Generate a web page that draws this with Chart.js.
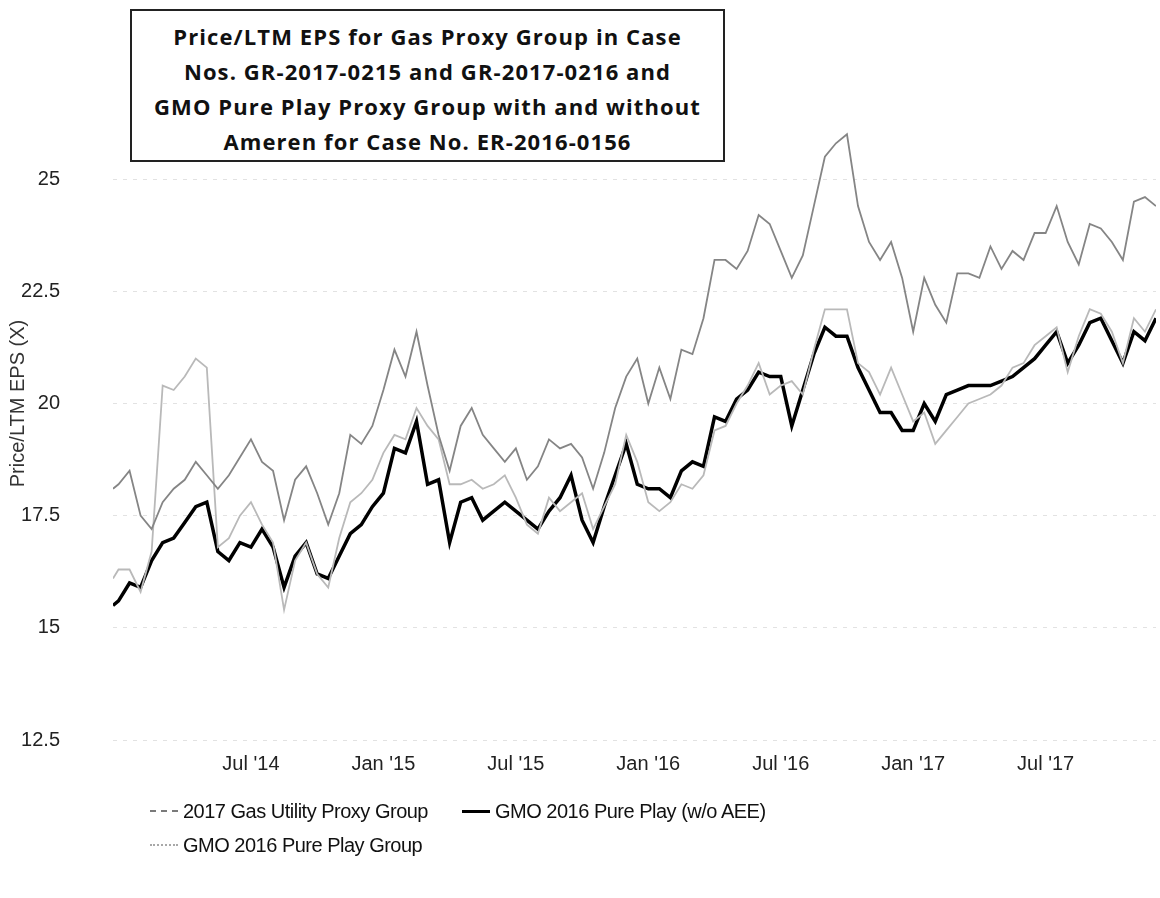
<!DOCTYPE html>
<html>
<head>
<meta charset="utf-8">
<script src="https://cdn.jsdelivr.net/npm/chart.js@4.4.1/dist/chart.umd.min.js"></script>
<style>
  body { margin: 0; background: #fff; }
  #wrap { position: relative; width: 1160px; height: 898px; }
  #title {
    position: absolute; left: 130px; top: 9px; width: 595px; height: 153px;
    box-sizing: border-box; border: 2px solid #222; background: #fff;
    padding-top: 8px; text-align: center; white-space: nowrap;
    font-family: 'Open Sans', sans-serif; font-weight: 700; font-size: 22px; letter-spacing: 1.1px;
    line-height: 35px; color: #111;
  }
  .item {
    position: absolute; display: flex; align-items: center; height: 24px;
    font-family: 'Liberation Sans', Arial, sans-serif; font-size: 20px; letter-spacing: -0.5px; color: #111;
  }
  .mark { width: 28px; height: 0; margin-right: 5px; }
</style>
</head>
<body>
<div id="wrap">
  <canvas id="chart" width="1160" height="898"></canvas>
  <div id="title">Price/LTM EPS for Gas Proxy Group in Case<br>Nos. GR-2017-0215 and GR-2017-0216 and<br>GMO Pure Play Proxy Group with and without<br>Ameren for Case No. ER-2016-0156</div>
  <div id="legend"></div>
</div>
<script>
// months since Jan 2014
const months = [
  -0.25, 0, 0.5, 1, 1.5, 2, 2.5, 3, 3.5, 4, 4.5, 5, 5.5, 6, 6.5, 7, 7.5, 8, 8.5, 9, 9.5,
  10, 10.5, 11, 11.5, 12, 12.5, 13, 13.5, 14, 14.5, 15, 15.5, 16, 16.5, 17, 17.5, 18, 18.5, 19, 19.5,
  20, 20.5, 21, 21.5, 22, 22.5, 23, 23.5, 24, 24.5, 25, 25.5, 26, 26.5, 27, 27.5, 28, 28.5, 29, 29.5,
  30, 30.5, 31, 31.5, 32, 32.5, 33, 33.5, 34, 34.5, 35, 35.5, 36, 36.5, 37, 37.5, 38, 38.5, 39, 39.5,
  40, 40.5, 41, 41.5, 42, 42.5, 43, 43.5, 44, 44.5, 45, 45.5, 46, 46.5, 47
];

const gasProxy = [
  18.1, 18.2, 18.5, 17.5, 17.2, 17.8, 18.1, 18.3, 18.7, 18.4, 18.1, 18.4, 18.8, 19.2, 18.7, 18.5, 17.4, 18.3, 18.6, 18.0,
  17.3, 18.0, 19.3, 19.1, 19.5, 20.3, 21.2, 20.6, 21.6, 20.4, 19.3, 18.5, 19.5, 19.9, 19.3, 19.0, 18.7, 19.0, 18.3, 18.6,
  19.2, 19.0, 19.1, 18.8, 18.1, 18.9, 19.9, 20.6, 21.0, 20.0, 20.8, 20.1, 21.2, 21.1, 21.9, 23.2, 23.2, 23.0, 23.4, 24.2,
  24.0, 23.4, 22.8, 23.3, 24.4, 25.5, 25.8, 26.0, 24.4, 23.6, 23.2, 23.6, 22.8, 21.6, 22.8, 22.2, 21.8, 22.9, 22.9, 22.8,
  23.5, 23.0, 23.4, 23.2, 23.8, 23.8, 24.4, 23.6, 23.1, 24.0, 23.9, 23.6, 23.2, 24.5, 24.6, 24.4
];

const pureNoAee = [
  15.5, 15.6, 16.0, 15.9, 16.5, 16.9, 17.0, 17.35, 17.7, 17.8, 16.7, 16.5, 16.9, 16.8, 17.2, 16.8, 15.9, 16.6, 16.9, 16.2,
  16.1, 16.6, 17.1, 17.3, 17.7, 18.0, 19.0, 18.9, 19.6, 18.2, 18.3, 16.9, 17.8, 17.9, 17.4, 17.6, 17.8, 17.6, 17.4, 17.2,
  17.6, 17.9, 18.4, 17.4, 16.9, 17.7, 18.4, 19.1, 18.2, 18.1, 18.1, 17.9, 18.5, 18.7, 18.6, 19.7, 19.6, 20.1, 20.3, 20.7,
  20.6, 20.6, 19.5, 20.3, 21.1, 21.7, 21.5, 21.5, 20.8, 20.3, 19.8, 19.8, 19.4, 19.4, 20.0, 19.6, 20.2, 20.3, 20.4, 20.4,
  20.4, 20.5, 20.6, 20.8, 21.0, 21.3, 21.6, 20.9, 21.3, 21.8, 21.9, 21.4, 20.9, 21.6, 21.4, 21.9
];

const purePlay = [
  16.1, 16.3, 16.3, 15.8, 16.7, 20.4, 20.3, 20.6, 21.0, 20.8, 16.8, 17.0, 17.5, 17.8, 17.3, 16.9, 15.4, 16.5, 16.9, 16.2,
  15.9, 17.0, 17.8, 18.0, 18.3, 18.9, 19.3, 19.2, 19.9, 19.5, 19.2, 18.2, 18.2, 18.3, 18.1, 18.2, 18.4, 17.9, 17.3, 17.1,
  17.9, 17.6, 17.8, 18.0, 17.2, 17.7, 18.2, 19.3, 18.7, 17.8, 17.6, 17.8, 18.2, 18.1, 18.4, 19.4, 19.5, 20.0, 20.4, 20.9,
  20.2, 20.4, 20.5, 20.2, 21.2, 22.1, 22.1, 22.1, 20.9, 20.7, 20.2, 20.8, 20.2, 19.6, 19.8, 19.1, 19.4, 19.7, 20.0, 20.1,
  20.2, 20.4, 20.8, 20.9, 21.3, 21.5, 21.7, 20.7, 21.5, 22.1, 22.0, 21.6, 20.9, 21.9, 21.6, 22.1
];

const tickMonths = [6, 12, 18, 24, 30, 36, 42];
const tickLabels = ["Jul '14", "Jan '15", "Jul '15", "Jan '16", "Jul '16", "Jan '17", "Jul '17"];

const seriesNames = ['2017 Gas Utility Proxy Group', 'GMO 2016 Pure Play (w/o AEE)', 'GMO 2016 Pure Play Group'];
const seriesColors = ['#858585', '#000000', '#b9b9b9'];

const toPoints = (values) => values.map((v, i) => ({ x: months[i], y: v }));
const font = { family: "'Liberation Sans', Arial, sans-serif", size: 20 };

const chart = new Chart(document.getElementById('chart'), {
  type: 'line',
  data: {
    datasets: [
      { label: seriesNames[0], data: toPoints(gasProxy), borderColor: seriesColors[0], borderWidth: 1.8, order: 0 },
      { label: seriesNames[1], data: toPoints(pureNoAee), borderColor: seriesColors[1], borderWidth: 3.5, order: 2 },
      { label: seriesNames[2], data: toPoints(purePlay), borderColor: seriesColors[2], borderWidth: 1.8, order: 1 },
    ],
  },
  options: {
    responsive: false,
    animation: false,
    devicePixelRatio: 1,
    layout: { padding: { top: 67, right: 4, bottom: 110, left: 0 } },
    plugins: { legend: { display: false }, tooltip: { enabled: false } },
    elements: { point: { radius: 0 }, line: { tension: 0 } },
    scales: {
      x: {
        type: 'linear',
        min: -0.25,
        max: 47,
        border: { display: false },
        grid: { display: false, drawTicks: false },
        afterBuildTicks: (scale) => {
          scale.ticks = tickMonths.map((v) => ({ value: v }));
        },
        ticks: {
          padding: 12,
          color: '#222',
          font,
          maxRotation: 0,
          autoSkip: false,
          callback: (v) => tickLabels[tickMonths.indexOf(v)] || '',
        },
      },
      y: {
        min: 12.5,
        max: 27.5,
        afterFit: (scale) => {
          scale.width = 113;
        },
        border: { display: false, dash: [4, 6] },
        grid: { color: '#e2e2e2', drawTicks: false },
        ticks: {
          stepSize: 2.5,
          padding: 53,
          color: '#222',
          font,
          callback: (v) => (v > 25 ? null : String(v)),
        },
        title: {
          display: true,
          text: 'Price/LTM EPS (X)',
          color: '#333',
          font,
          padding: { top: 6, bottom: 0 },
        },
      },
    },
  },
});

// html legend, placed like the original
const legendSlots = [
  { left: 150, top: 799, mark: '2px dashed #7a7a7a' },
  { left: 462, top: 799, mark: '3px solid #000' },
  { left: 150, top: 833, mark: '2px dotted #a8a8a8' },
];
const legendEl = document.getElementById('legend');
chart.data.datasets.forEach((ds, i) => {
  const slot = legendSlots[i];
  const item = document.createElement('div');
  item.className = 'item';
  item.style.left = slot.left + 'px';
  item.style.top = slot.top + 'px';
  const mark = document.createElement('span');
  mark.className = 'mark';
  mark.style.borderTop = slot.mark;
  const text = document.createElement('span');
  text.textContent = ds.label;
  item.appendChild(mark);
  item.appendChild(text);
  legendEl.appendChild(item);
});
</script>
</body>
</html>
